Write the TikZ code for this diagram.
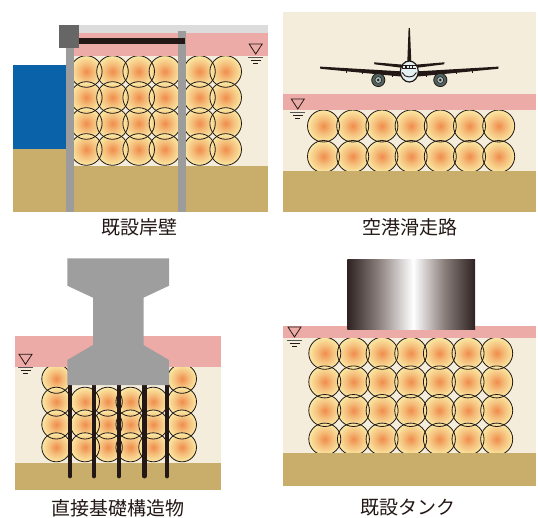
\documentclass[tikz,border=0pt]{standalone}
\usepackage{fontspec}
\newfontfamily\jpfont{Noto Sans CJK JP}

\definecolor{pinkband}{HTML}{EDABA7}
\definecolor{soil}{HTML}{F4EDDC}
\definecolor{bed}{HTML}{C9AE6B}
\definecolor{sea}{HTML}{0A63A9}
\definecolor{steel}{HTML}{9C9C9C}
\definecolor{capgray}{HTML}{666666}
\definecolor{pave}{HTML}{DCDCDC}
\definecolor{ink}{HTML}{231815}
\definecolor{bubcore}{HTML}{F08C4C}
\definecolor{bubmid}{HTML}{F5BE7B}
\definecolor{bubrim}{HTML}{FAE9A3}
\definecolor{concrete}{HTML}{9E9E9E}
\definecolor{tkdark}{HTML}{2E2222}
\definecolor{tkmid}{HTML}{8A7E7B}
\definecolor{cabin}{HTML}{E3F1F2}
\definecolor{engine}{HTML}{50625F}
\definecolor{engring}{HTML}{A9BBB8}
\definecolor{wlgray}{HTML}{555555}

% steel tank: dark edges, bright band a little right of centre
\pgfdeclarehorizontalshading{tankshade}{100bp}{%
  color(0bp)=(tkdark); color(25bp)=(tkdark); color(37bp)=(tkmid);
  color(50.8bp)=(white); color(63bp)=(tkmid); color(75bp)=(tkdark);
  color(100bp)=(tkdark)}
% soil column: orange core fading to pale yellow
\pgfdeclareradialshading{colshade}{\pgfpoint{0bp}{0bp}}{%
  color(0bp)=(bubcore); color(12bp)=(bubmid); color(25bp)=(bubrim);
  color(50bp)=(bubrim)}

\tikzset{
  bubline/.style={draw=ink, line width=0.8pt},
  bubfill/.style={shading=colshade},
  capfont/.style={font=\jpfont\fontsize{19}{22}\selectfont, text=ink, inner sep=0pt},
  wl/.pic={
    \draw[ink, line width=0.8pt, line join=miter] (-6.5,0) -- (6.5,0) -- (0,10) -- cycle;
    \draw[wlgray, line width=1pt] (-7.5,13.5) -- (7.5,13.5);
    \draw[ink, line width=0.8pt] (-5,16.2) -- (5,16.2);
    \draw[ink, line width=0.8pt] (-2.5,18.9) -- (2.5,18.9);
  },
}

% grid of improved-soil columns: x centres, y centres, radius
\newcommand\soilgrid[3]{%
  \foreach \bx in {#1}{\foreach \by in {#2}{%
    \shade[bubfill] (\bx,\by) circle[radius=#3];}}%
  \foreach \bx in {#1}{\foreach \by in {#2}{%
    \draw[bubline] (\bx,\by) circle[radius=#3];}}}

\begin{document}
\begin{tikzpicture}[x=1pt, y=-1pt]
\useasboundingbox (0,0) rectangle (538,517);

%% ---------- quay wall ----------
\fill[pave] (79,25) rectangle (268,33);
\fill[soil] (73.7,55.7) rectangle (268,166);
\soilgrid{86.3,112.5,138.7,164.9}{71.5,97.5,123.5,149.5}{15.8}
\soilgrid{199.5,225.7}{71.5,97.5,123.5,149.5}{15.8}
\fill[pinkband] (73.7,33) rectangle (268,55.7);
\fill[bed] (73.7,166) rectangle (268,211.7);
\fill[sea] (13.3,65) rectangle (66,149);
\fill[bed] (13.3,149) rectangle (66,211.7);
\fill[steel] (66,47.7) rectangle (73.7,211.7);
\fill[steel] (178,31) rectangle (185.7,211.7);
\fill[ink] (79,37.7) rectangle (185,44);
\fill[capgray] (59,25) rectangle (79,47.7);
\pic at (255.7,44) {wl};
\node[capfont] (cap1) at (139.2,227.5) {既設岸壁};

%% ---------- runway ----------
\fill[soil] (283.3,12.3) rectangle (535.7,171);
\soilgrid{323.5,352.7,381.9,411.1,440.3,469.5,498.7}{126,156.5}{16}
\fill[pinkband] (283.3,94.3) rectangle (535.7,110);
\fill[bed] (283.3,171) rectangle (535.7,211.7);
\pic at (297.8,99) {wl};
% aircraft, front view
\fill[ink] (408.6,28) -- (409.9,28) -- (411.3,62) -- (407.3,62) -- cycle;
\fill[ink] (374,62.3) -- (374.5,64.3) -- (402,67.8) -- (402,64.6) -- cycle;
\fill[ink] (444.6,62.3) -- (444.1,64.3) -- (416.6,67.8) -- (416.6,64.6) -- cycle;
\fill[ink] (320,66.6) -- (320.4,68.8) -- (402,76.6) -- (402,71.4) -- cycle;
\fill[ink] (498.6,66.6) -- (498.2,68.8) -- (416.6,76.6) -- (416.6,71.4) -- cycle;
\foreach \tx in {346,362,392}{
  \draw[ink, line width=0.7pt] (\tx,{68.6+(\tx-320.4)*0.0957}) -- ++(0,1.8);
  \draw[ink, line width=0.7pt] ({818.6-\tx},{68.6+(\tx-320.4)*0.0957}) -- ++(0,1.8);}
\foreach \ex in {378.3,440.3}{
  \filldraw[fill=engine, draw=ink, line width=0.8pt] (\ex,80) circle[radius=6.6];
  \filldraw[fill=engring, draw=ink, line width=0.5pt] (\ex,80) circle[radius=3.4];
  \fill[ink] (\ex,80) circle[radius=1.4];}
\filldraw[fill=cabin, draw=ink, line width=1.2pt] (409.3,71.5) ellipse[x radius=9, y radius=10.5];
\fill[ink] (402.3,64.8) rectangle (416.3,69.2);
\foreach \wx in {404.2,407.6,411,414.4}
  \fill[cabin] (\wx-1.1,66) rectangle (\wx+1.1,68);
\draw[ink, line width=0.9pt] (402.2,72.5) .. controls (404.5,78.5) and (414.1,78.5) .. (416.4,72.5);

\node[capfont] (cap2) at (409.7,227.5) {空港滑走路};

%% ---------- foundation structure ----------
\fill[soil] (15,366.7) rectangle (221,462.7);
\foreach \bx/\by in {56.3/378.8, 182/378.8}
  \shade[bubfill] (\bx,\by) circle[radius=14.5];
\foreach \bx in {56.3,85,107.8,130.5,153.3,182}{\foreach \by in {401.7,424.5,447.3}{
  \shade[bubfill] (\bx,\by) circle[radius=14.5];}}
\foreach \bx/\by in {56.3/378.8, 182/378.8}
  \draw[bubline] (\bx,\by) circle[radius=14.5];
\foreach \bx in {56.3,85,107.8,130.5,153.3,182}{\foreach \by in {401.7,424.5,447.3}{
  \draw[bubline] (\bx,\by) circle[radius=14.5];}}
\fill[pinkband] (15,336) rectangle (221,366.7);
\fill[bed] (15,462.7) rectangle (221,490);
\foreach \px in {70,94,119,144.3,167}
  \draw[ink, line width=4.4pt, line cap=round] (\px,380) -- (\px,476.2);
\fill[concrete] (67.3,258.3) -- (169,258.3) -- (169,285.7) -- (143.5,297.7)
  -- (143.5,345) -- (169,360) -- (169,385) -- (67.3,385) -- (67.3,360)
  -- (93,345) -- (93,297.7) -- (67.3,285.7) -- cycle;
\pic at (25.5,354.3) {wl};
\node[capfont] (cap3) at (118.3,508) {直接基礎構造物};

%% ---------- existing tank ----------
\fill[soil] (282.7,337.7) rectangle (535.7,452.7);
\soilgrid{324.8,353.45,382.1,410.75,439.4,468.05,496.7}{353.3,381.9,410.5,439.1}{16}
\fill[pinkband] (282.7,326) rectangle (535.7,337.7);
\fill[bed] (282.7,452.7) rectangle (535.7,485.7);
\shade[shading=tankshade] (347.3,259) rectangle (475,329);
\pic at (294.5,327) {wl};
\node[capfont] (cap4) at (408,508) {既設タンク};
\end{tikzpicture}
\end{document}
